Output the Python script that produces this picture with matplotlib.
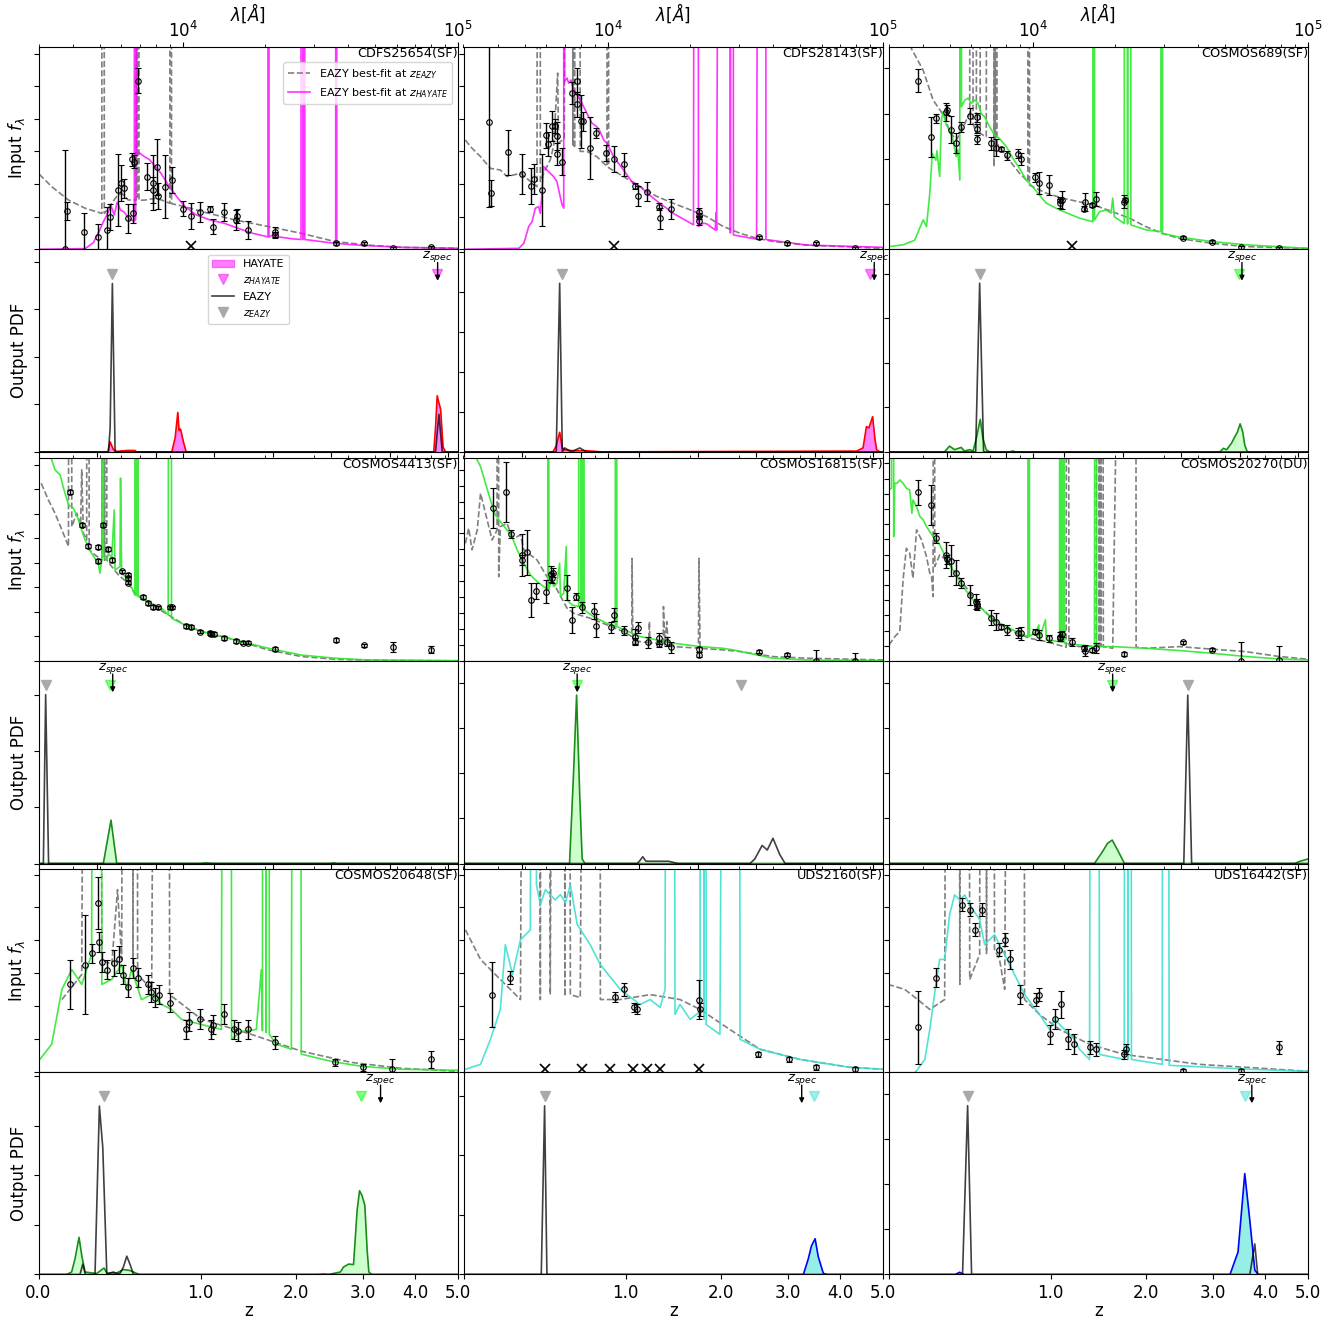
import numpy as np
import matplotlib
matplotlib.use("Agg")
import matplotlib.pyplot as plt
import matplotlib.patches as mpatches
import matplotlib.transforms as mtransforms
from matplotlib.lines import Line2D

SPIKE = 99.0   # emission lines that run off the top of a panel

# ---------------------------------------------------------------------------
# Data: wavelengths as log10(lambda/A), fluxes and PDFs
# in units of one y tick.
# ---------------------------------------------------------------------------

NAMES = ["CDFS25654(SF)", "CDFS28143(SF)", "COSMOS689(SF)",
         "COSMOS4413(SF)", "COSMOS16815(SF)", "COSMOS20270(DU)",
         "COSMOS20648(SF)", "UDS2160(SF)", "UDS16442(SF)"]
FIELDS = ["CDFS", "CDFS", "COSMOS", "COSMOS", "COSMOS", "COSMOS",
          "COSMOS", "UDS", "UDS"]
SED_YMAX = [6.21, 6.21, 4.48, 8.27, 12.72, 13.33, 6.16, 6.16, 6.16]
PDF_YMAX = [4.26, 5.06, 4.55, 3.6, 4.5, 4.5, 4.09, 3.4, 4.5]
Z_EAZY = [0.371, 0.523, 0.476, 0.031, 2.27, 2.59, 0.325, 0.414, 0.402]
Z_HAYATE = [4.49, 4.67, 3.47, 0.358, 0.621, 1.60, 2.96, 3.47, 3.58]
Z_SPEC = [4.50, 4.78, 3.525, 0.373, 0.625, 1.605, 3.31, 3.24, 3.72]

# --- CDFS25654 -------------------------------------------------------------
A_ph_loglam = [3.574, 3.582, 3.643, 3.692, 3.727, 3.737, 3.767, 3.777, 3.787, 3.801,
               3.815, 3.821, 3.822, 3.838, 3.872, 3.891, 3.891, 3.907, 3.912, 3.938,
               3.963, 4.0, 4.029, 4.064, 4.101, 4.112, 4.149, 4.193, 4.197, 4.236,
               4.335, 4.337, 4.556, 4.657, 4.763, 4.902]
A_ph_flux = [0.0, 1.18, 0.52, 0.37, 0.59, 1.0, 1.82, 2.04, 1.87, 0.95,
             2.76, 1.1, 2.69, 5.17, 2.23, 2.04, 1.82, 2.52, 1.64, 1.92,
             2.12, 1.24, 1.02, 1.15, 1.23, 0.69, 1.15, 0.9, 1.02, 0.59,
             0.54, 0.44, 0.18, 0.18, 0.03, 0.06]
A_ph_err = [3.05, 0.28, 0.6, 0.4, 0.7, 0.4, 1.1, 0.55, 0.3, 0.45,
            0.2, 0.3, 0.2, 0.38, 0.4, 0.85, 0.4, 0.85, 0.4, 0.97,
            0.4, 0.23, 0.4, 0.3, 0.1, 0.23, 0.28, 0.3, 0.2, 0.28,
            0.15, 0.1, 0.05, 0.05, 0.05, 0.05]
A_ulim = [4.029]
A_hay_loglam = [3.48, 3.646, 3.676, 3.700, 3.713, 3.725, 3.740, 3.752, 3.763, 3.775,
                3.787, 3.805, 3.825, 3.827, 3.829, 3.831, 3.833, 3.845, 3.860, 3.880,
                3.900, 3.920, 3.950, 3.980, 4.010, 4.050, 4.100, 4.150, 4.200, 4.250,
                4.310, 4.312, 4.314, 4.330, 4.333, 4.345, 4.348, 4.400, 4.430, 4.432,
                4.437, 4.441, 4.444, 4.556, 4.558, 4.560, 4.650, 4.800, 5.0]
A_hay_flux = [0.0, 0.02, 0.2, 0.6, 0.85, 1.05, 1.35, 1.05, 1.45, 1.2,
              1.15, 0.95, 0.85, SPIKE, 0.9, SPIKE, 2.95, 2.95, 2.85, 2.75,
              2.55, 2.35, 1.95, 1.6, 1.3, 1.05, 0.9, 0.8, 0.65, 0.5,
              0.38, SPIKE, 0.38, 0.45, 0.38, 0.45, 0.38, 0.32, 0.3, SPIKE,
              0.3, SPIKE, 0.3, 0.18, SPIKE, 0.18, 0.12, 0.06, 0.03]
A_eazy_loglam = [3.48, 3.525, 3.586, 3.646, 3.707, 3.712, 3.716, 3.743, 3.761, 3.779,
                 3.803, 3.832, 3.834, 3.836, 3.839, 3.842, 3.864, 3.900, 3.924, 3.954,
                 3.957, 3.960, 4.008, 4.069, 4.190, 4.310, 4.431, 4.552, 4.673, 4.793, 5.0]
A_eazy_flux = [2.3, 1.92, 1.51, 1.26, 1.1, SPIKE, 1.1, 1.41, 1.62, 1.72,
               1.51, 1.51, SPIKE, 1.6, SPIKE, 1.5, 1.51, 1.56, 1.51, 1.41,
               SPIKE, 1.4, 1.31, 1.16, 0.9, 0.7, 0.49, 0.24, 0.13, 0.06, 0.03]
A_pe_z = [0.0, 0.34, 0.348, 0.358, 0.371, 0.387, 0.40, 4.40, 4.45, 4.53, 4.61, 4.65, 5.0]
A_pe_p = [0.0, 0.0, 0.0, 0.5, 3.54, 0.0, 0.0, 0.0, 0.0, 0.79, 0.0, 0.0, 0.0]
A_ph_z = [0.0, 0.345, 0.358, 0.377, 0.397, 0.46, 0.51, 0.52, 0.767, 0.793,
          0.813, 0.823, 0.834, 0.858, 0.879, 4.41, 4.45, 4.49, 4.53, 4.57, 4.63, 4.69, 5.0]
A_ph_p = [0.0, 0.0, 0.21, 0.05, 0.01, 0.03, 0.03, 0.0, 0.0, 0.3,
          0.83, 0.45, 0.48, 0.2, 0.0, 0.0, 0.5, 1.18, 1.03, 0.9, 0.1, 0.0, 0.0]

# --- CDFS28143 -------------------------------------------------------------
B_ph_loglam = [3.571, 3.577, 3.639, 3.688, 3.723, 3.734, 3.763, 3.775, 3.783, 3.797,
               3.810, 3.815, 3.816, 3.835, 3.870, 3.888, 3.889, 3.903, 3.911, 3.936,
               3.958, 3.995, 4.024, 4.06, 4.098, 4.109, 4.145, 4.187, 4.191, 4.231,
               4.333, 4.333, 4.333, 4.551, 4.653, 4.758, 4.897]
B_ph_flux = [3.9, 1.72, 2.97, 2.31, 1.95, 2.16, 1.82, 3.5, 3.23, 3.78,
             3.78, 3.48, 2.92, 2.69, 4.79, 5.17, 4.45, 3.92, 3.92, 3.1,
             3.56, 2.96, 2.76, 2.61, 1.94, 1.64, 1.77, 1.31, 0.95, 1.23,
             1.13, 1.02, 0.88, 0.37, 0.18, 0.18, 0.03]
B_ph_err = [2.6, 0.4, 0.69, 0.6, 0.55, 0.45, 1.1, 0.38, 0.38, 0.45,
            0.2, 0.43, 0.33, 0.42, 0.34, 0.4, 0.38, 0.8, 0.3, 0.96,
            0.15, 0.25, 0.4, 0.35, 0.1, 0.3, 0.28, 0.1, 0.33, 0.3,
            0.15, 0.1, 0.15, 0.05, 0.05, 0.05, 0.05]
B_ulim = [4.022]
B_hay_loglam = [3.484, 3.678, 3.696, 3.714, 3.726, 3.738, 3.750, 3.756, 3.762, 3.768,
                3.780, 3.792, 3.804, 3.816, 3.835, 3.841, 3.842, 3.844, 3.853, 3.859,
                3.867, 3.877, 3.901, 3.925, 3.943, 3.961, 3.973, 3.986, 3.998, 4.022,
                4.058, 4.088, 4.118, 4.167, 4.239, 4.312, 4.326, 4.330, 4.348, 4.360,
                4.391, 4.394, 4.396, 4.440, 4.446, 4.452, 4.457, 4.541, 4.572, 4.575,
                4.722, 5.0]
B_hay_flux = [0.0, 0.03, 0.18, 0.7, 0.85, 1.26, 1.31, 1.1, 1.72, 2.54,
              2.43, 2.33, 2.23, 2.08, 1.36, 1.26, SPIKE, 5.14, 5.25, 5.09,
              5.19, 4.89, 4.58, 4.17, 3.87, 3.76, 3.61, 3.35, 3.25, 2.84,
              2.43, 2.08, 1.92, 1.56, 1.1, 0.75, SPIKE, 0.7, 0.8, 0.78,
              0.59, 1.12, 0.59, SPIKE, 0.5, SPIKE, 0.44, 0.31, SPIKE, 0.3,
              0.13, 0.06]
B_eazy_loglam = [3.484, 3.502, 3.539, 3.575, 3.611, 3.635, 3.684, 3.720, 3.744, 3.754,
                 3.756, 3.768, 3.792, 3.804, 3.819, 3.822, 3.843, 3.871, 3.874, 3.877,
                 3.880, 3.883, 3.901, 3.925, 3.961, 3.998, 4.001, 4.004, 4.058, 4.118,
                 4.179, 4.239, 4.300, 4.360, 4.420, 4.481, 4.541, 4.601, 4.722, 5.0]
B_eazy_flux = [3.35, 3.15, 2.84, 2.48, 2.43, 2.23, 2.33, 2.08, 1.92, SPIKE,
               2.08, 2.33, 2.74, 3.15, 5.4, 3.25, 3.4, SPIKE, 3.2, SPIKE,
               3.1, SPIKE, 3.0, 3.0, 2.84, 2.54, SPIKE, 2.5, 2.23, 1.92,
               1.62, 1.41, 1.21, 1.0, 0.7, 0.49, 0.34, 0.24, 0.13, 0.03]
B_pe_z = [0.0, 0.486, 0.508, 0.525, 0.540, 0.585, 0.643, 0.690, 5.0]
B_pe_p = [0.0, 0.0, 4.21, 0.0, 0.1, 0.0, 0.1, 0.0, 0.0]
B_ph_z = [0.0, 0.465, 0.486, 0.508, 0.525, 0.540, 0.596, 0.690, 0.764, 0.80,
          4.36, 4.51, 4.59, 4.65, 4.74, 4.80, 4.84, 4.92, 5.0]
B_ph_p = [0.0, 0.0, 0.15, 0.49, 0.1, 0.05, 0.03, 0.03, 0.01, 0.0,
          0.02, 0.1, 0.63, 0.6, 0.88, 0.3, 0.05, 0.0, 0.0]

# --- COSMOS689 -------------------------------------------------------------
C_ph_loglam = [3.585, 3.630, 3.649, 3.687, 3.690, 3.705, 3.723, 3.739, 3.773, 3.797,
               3.797, 3.798, 3.850, 3.867, 3.885, 3.908, 3.948, 3.957, 4.008, 4.024,
               4.06, 4.098, 4.099, 4.107, 4.188, 4.192, 4.216, 4.231, 4.333, 4.335,
               4.548, 4.651, 4.757, 4.895]
C_ph_flux = [3.73, 2.48, 2.9, 3.04, 3.08, 2.64, 2.36, 2.71, 2.95, 2.92,
             2.67, 2.43, 2.34, 2.25, 2.22, 2.08, 2.11, 1.99, 1.59, 1.46,
             1.42, 1.1, 1.02, 1.1, 0.9, 1.05, 0.98, 1.11, 1.05, 1.09,
             0.26, 0.17, 0.04, 0.02]
C_ph_err = [0.26, 0.44, 0.1, 0.2, 0.1, 0.3, 0.22, 0.11, 0.17, 0.1,
            0.1, 0.1, 0.15, 0.18, 0.05, 0.1, 0.1, 0.13, 0.1, 0.24,
            0.22, 0.05, 0.1, 0.2, 0.05, 0.2, 0.05, 0.16, 0.14, 0.05,
            0.03, 0.03, 0.03, 0.03]
C_ulim = [4.144]
C_hay_loglam = [3.479, 3.530, 3.572, 3.603, 3.615, 3.627, 3.636, 3.649, 3.653, 3.663,
                3.669, 3.675, 3.687, 3.699, 3.711, 3.723, 3.729, 3.736, 3.738, 3.742,
                3.754, 3.766, 3.778, 3.790, 3.802, 3.814, 3.826, 3.844, 3.862, 3.880,
                3.905, 3.929, 3.953, 3.977, 4.001, 4.025, 4.050, 4.098, 4.170, 4.219,
                4.222, 4.225, 4.243, 4.267, 4.285, 4.291, 4.297, 4.333, 4.339, 4.345,
                4.351, 4.357, 4.412, 4.466, 4.469, 4.472, 4.533, 4.653, 4.774, 5.0]
C_hay_flux = [0.06, 0.1, 0.2, 0.65, 0.5, 1.24, 2.12, 1.97, 2.18, 1.61,
              2.86, 3.04, 2.75, 2.64, 2.42, 2.05, 2.2, 1.53, SPIKE, 3.15,
              3.3, 3.34, 3.23, 3.3, 3.23, 3.0, 2.93, 2.71, 2.53, 2.45,
              2.27, 2.01, 1.79, 1.53, 1.38, 1.2, 1.02, 0.87, 0.69, 0.61,
              SPIKE, 0.65, 0.83, 0.87, 0.8, 1.13, 0.72, 0.57, SPIKE, 0.56,
              SPIKE, 0.54, 0.43, 0.39, SPIKE, 0.35, 0.27, 0.17, 0.1, 0.02]
C_eazy_loglam = [3.540, 3.560, 3.603, 3.639, 3.681, 3.699, 3.723, 3.742, 3.760, 3.772,
                 3.781, 3.784, 3.796, 3.808, 3.810, 3.832, 3.856, 3.860, 3.862, 3.865,
                 3.868, 3.871, 3.905, 3.953, 3.983, 3.986, 3.989, 4.050, 4.110, 4.170,
                 4.231, 4.291, 4.351, 4.412, 4.472, 4.533, 4.653, 4.774, 5.0]
C_eazy_flux = [5.5, 4.44, 3.96, 3.3, 2.93, 2.6, 2.42, 2.6, 2.86, 3.0,
               SPIKE, 2.78, 2.56, SPIKE, 2.56, 2.49, SPIKE, 1.83, SPIKE, 2.2,
               SPIKE, 2.34, 2.05, 1.68, 1.5, SPIKE, 1.42, 1.24, 1.13, 1.05,
               0.96, 0.83, 0.69, 0.5, 0.35, 0.24, 0.13, 0.06, 0.02]
C_pe_z = [0.0, 0.451, 0.476, 0.501, 5.0]
C_pe_p = [0.0, 0.0, 3.79, 0.0, 0.0]
C_ph_z = [0.0, 0.27, 0.298, 0.326, 0.364, 0.383, 0.414, 0.435, 0.455, 0.480,
          0.497, 0.518, 0.54, 0.68, 0.70, 0.72, 3.12, 3.18, 3.24, 3.33,
          3.39, 3.44, 3.49, 3.54, 3.58, 3.63, 5.0]
C_ph_p = [0.0, 0.0, 0.13, 0.05, 0.1, 0.02, 0.05, 0.02, 0.3, 0.73,
          0.3, 0.05, 0.0, 0.0, 0.02, 0.0, 0.0, 0.08, 0.05, 0.2,
          0.34, 0.45, 0.63, 0.45, 0.15, 0.0, 0.0]

# --- COSMOS4413 ------------------------------------------------------------
D_ph_loglam = [3.591, 3.636, 3.656, 3.694, 3.694, 3.710, 3.728, 3.745, 3.779, 3.801,
               3.803, 3.801, 3.857, 3.873, 3.891, 3.912, 3.955, 3.963, 4.014, 4.029,
               4.064, 4.100, 4.105, 4.113, 4.149, 4.193, 4.220, 4.236, 4.337, 4.556,
               4.657, 4.763, 4.902]
D_ph_flux = [6.88, 5.55, 4.69, 4.64, 4.08, 5.55, 4.56, 4.1, 3.65, 3.51,
             3.37, 3.2, 2.59, 2.35, 2.19, 2.18, 2.18, 2.18, 1.43, 1.37,
             1.2, 1.13, 1.1, 1.1, 0.95, 0.82, 0.75, 0.75, 0.49, 0.86,
             0.63, 0.56, 0.45]
D_ph_err = [0.08, 0.08, 0.08, 0.08, 0.08, 0.08, 0.08, 0.08, 0.08, 0.08,
            0.08, 0.08, 0.08, 0.08, 0.08, 0.08, 0.08, 0.08, 0.08, 0.08,
            0.08, 0.08, 0.08, 0.08, 0.08, 0.08, 0.08, 0.08, 0.08, 0.08,
            0.08, 0.2, 0.14]
D_ulim = []
D_hay_loglam = [3.523, 3.537, 3.556, 3.568, 3.586, 3.604, 3.622, 3.646, 3.670, 3.694,
                3.700, 3.707, 3.709, 3.713, 3.725, 3.731, 3.743, 3.752, 3.755, 3.773,
                3.775, 3.779, 3.803, 3.827, 3.830, 3.833, 3.837, 3.839, 3.864, 3.888,
                3.924, 3.948, 3.957, 3.960, 4.008, 4.069, 4.190, 4.310, 4.431, 4.552,
                4.673, 5.0]
D_hay_flux = [8.27, 7.8, 7.59, 7.05, 6.37, 6.23, 5.76, 4.94, 4.39, 3.99,
              3.58, 4.12, SPIKE, 4.26, 4.12, 4.39, 4.19, 6.16, 3.71, 3.85,
              7.46, 3.58, 3.31, 2.69, SPIKE, 2.66, SPIKE, 2.63, 2.49, 2.35,
              2.15, 1.88, SPIKE, 1.74, 1.47, 1.2, 0.86, 0.52, 0.24, 0.11,
              0.04, 0.01]
D_eazy_loglam = [3.487, 3.513, 3.537, 3.562, 3.586, 3.592, 3.598, 3.616, 3.630, 3.634,
                 3.640, 3.652, 3.658, 3.661, 3.682, 3.707, 3.713, 3.717, 3.721, 3.725,
                 3.743, 3.767, 3.803, 3.827, 3.888, 3.948, 4.008, 4.069, 4.190, 4.310,
                 4.431, 4.552, 4.673, 5.0]
D_eazy_flux = [7.25, 6.57, 6.03, 5.35, 4.67, SPIKE, 5.48, 6.03, 5.55, 7.8,
               5.21, 4.94, SPIKE, 4.53, 4.33, 4.12, SPIKE, 4.1, SPIKE, 4.12,
               3.85, 3.51, 3.17, 2.76, 2.29, 1.88, 1.47, 1.2, 0.86, 0.45,
               0.18, 0.07, 0.03, 0.0]
D_pe_z = [0.0, 0.021, 0.031, 0.044, 5.0]
D_pe_p = [0.0, 0.0, 3.0, 0.0, 0.0]
D_ph_z = [0.0, 0.319, 0.363, 0.397, 1.0, 1.05, 1.10, 2.48, 2.53, 2.58, 5.0]
D_ph_p = [0.0, 0.0, 0.77, 0.0, 0.0, 0.01, 0.0, 0.0, 0.01, 0.0, 0.0]

# --- COSMOS16815 -----------------------------------------------------------
E_ph_loglam = [3.586, 3.633, 3.651, 3.690, 3.690, 3.708, 3.723, 3.742, 3.775, 3.796,
               3.798, 3.801, 3.853, 3.871, 3.886, 3.909, 3.950, 3.957, 4.012, 4.024,
               4.059, 4.098, 4.099, 4.110, 4.146, 4.188, 4.188, 4.217, 4.232, 4.333,
               4.333, 4.551, 4.653, 4.758, 4.897]
E_ph_flux = [9.58, 10.59, 7.97, 6.65, 6.34, 6.82, 3.83, 4.41, 4.35, 5.46,
             5.19, 5.54, 4.6, 2.57, 4.04, 3.37, 3.16, 2.22, 2.11, 2.89,
             1.9, 1.53, 1.21, 2.09, 1.17, 1.42, 1.07, 1.21, 0.86, 0.73,
             0.38, 0.59, 0.38, 0.02, 0.02]
E_ph_err = [1.25, 1.9, 0.27, 1.3, 0.3, 1.4, 1.05, 0.5, 0.7, 0.5,
            0.3, 0.3, 0.77, 0.8, 0.2, 0.35, 0.5, 0.7, 0.35, 0.4,
            0.3, 0.5, 0.2, 0.35, 0.35, 0.35, 0.2, 0.3, 0.35, 0.15,
            0.15, 0.1, 0.1, 0.65, 0.45]
E_ulim = []
E_hay_loglam = [3.524, 3.539, 3.557, 3.575, 3.593, 3.611, 3.635, 3.653, 3.672, 3.696,
                3.720, 3.744, 3.768, 3.783, 3.785, 3.787, 3.798, 3.804, 3.816, 3.826,
                3.829, 3.841, 3.850, 3.853, 3.871, 3.895, 3.899, 3.903, 3.907, 3.910,
                3.913, 3.915, 3.949, 3.998, 4.028, 4.030, 4.034, 4.118, 4.239, 4.336,
                4.420, 4.457, 4.541, 4.601, 4.722, 5.0]
E_hay_flux = [12.72, 12.2, 11.15, 10.1, 9.16, 8.74, 8.22, 7.8, 6.97, 6.13,
              5.4, 4.98, 4.67, 4.46, SPIKE, 4.46, 5.29, 4.67, 4.87, 6.13,
              4.04, 4.25, 7.18, 3.83, 3.51, 3.41, SPIKE, 3.35, SPIKE, 3.3,
              SPIKE, 3.2, 2.78, 2.36, 2.15, SPIKE, 2.15, 1.53, 1.11, 0.9,
              0.79, 0.69, 0.38, 0.17, 0.06, 0.02]
E_eazy_loglam = [3.484, 3.496, 3.508, 3.527, 3.539, 3.551, 3.581, 3.599, 3.601, 3.605,
                 3.611, 3.635, 3.653, 3.672, 3.684, 3.696, 3.720, 3.744, 3.780, 3.804,
                 3.853, 3.877, 3.937, 3.998, 4.058, 4.088, 4.089, 4.092, 4.118, 4.150,
                 4.152, 4.154, 4.179, 4.202, 4.203, 4.208, 4.215, 4.220, 4.239, 4.330,
                 4.332, 4.336, 4.420, 4.481, 4.601, 4.722, 5.0]
E_eazy_flux = [7.38, 8.33, 6.97, 8.22, 10.52, 9.69, 7.59, 8.22, SPIKE, 5.29,
               8.43, 8.64, 7.8, 7.8, 7.91, 6.97, 6.65, 6.34, 5.29, 4.87,
               3.31, 2.99, 2.68, 2.26, 1.84, 1.53, 6.44, 1.32, 1.21, 1.15,
               2.47, 1.12, 1.11, 1.0, 3.41, 1.0, 2.47, 0.95, 0.9, 0.8,
               6.44, 0.79, 0.69, 0.59, 0.27, 0.17, 0.06]
E_pe_z = [0.0, 1.10, 1.12, 1.15, 1.18, 1.25, 1.40, 1.50, 2.40, 2.47,
          2.58, 2.66, 2.75, 2.86, 2.95, 5.0]
E_pe_p = [0.0, 0.0, 0.05, 0.15, 0.05, 0.05, 0.05, 0.0, 0.0, 0.1,
          0.4, 0.3, 0.56, 0.2, 0.0, 0.0]
E_ph_z = [0.0, 0.573, 0.600, 0.621, 0.643, 0.66, 0.68, 5.0]
E_ph_p = [0.0, 0.0, 2.0, 3.74, 1.5, 0.1, 0.0, 0.0]

# --- COSMOS20270 -----------------------------------------------------------
F_ph_loglam = [3.586, 3.630, 3.651, 3.687, 3.690, 3.705, 3.723, 3.739, 3.773, 3.796,
               3.797, 3.798, 3.850, 3.867, 3.885, 3.908, 3.948, 3.957, 4.008, 4.024,
               4.06, 4.098, 4.099, 4.107, 4.145, 4.188, 4.192, 4.216, 4.231, 4.333,
               4.548, 4.651, 4.757, 4.895]
F_ph_flux = [11.1, 10.26, 8.07, 6.97, 6.69, 6.6, 5.81, 5.11, 4.34, 3.9,
             3.75, 3.62, 2.85, 2.59, 2.26, 2.04, 1.82, 1.82, 1.93, 1.71,
             1.49, 1.6, 1.49, 1.78, 1.23, 0.83, 0.68, 0.72, 0.83, 0.46,
             1.23, 0.72, 0.02, 0.07]
F_ph_err = [0.82, 1.3, 0.33, 0.88, 0.3, 1.0, 0.8, 0.33, 0.65, 0.47,
            0.3, 0.3, 0.5, 0.55, 0.15, 0.33, 0.33, 0.44, 0.15, 0.33,
            0.22, 0.3, 0.15, 0.2, 0.28, 0.15, 0.35, 0.15, 0.33, 0.15,
            0.1, 0.1, 1.2, 0.9]
F_ulim = []
F_hay_loglam = [3.479, 3.488, 3.494, 3.496, 3.500, 3.508, 3.518, 3.530, 3.542, 3.554,
                3.562, 3.566, 3.579, 3.591, 3.603, 3.615, 3.639, 3.651, 3.663, 3.687,
                3.711, 3.748, 3.784, 3.820, 3.856, 3.905, 3.953, 3.983, 3.986, 3.989,
                4.013, 4.023, 4.025, 4.047, 4.050, 4.098, 4.100, 4.103, 4.107, 4.109,
                4.112, 4.116, 4.170, 4.225, 4.228, 4.233, 4.291, 4.412, 4.533, 4.653,
                4.774, 4.895, 5.0]
F_hay_flux = [11.25, 11.36, SPIKE, 8.18, 11.69, 11.69, 11.91, 11.69, 11.36, 11.25,
              9.71, 10.59, 10.15, 9.5, 9.28, 8.84, 8.18, 7.96, 7.63, 6.75,
              5.99, 4.89, 4.01, 3.36, 2.7, 2.26, 1.82, 1.6, SPIKE, 1.6,
              1.93, 2.37, 1.49, 2.7, 1.38, 1.27, SPIKE, 1.25, SPIKE, 1.22,
              SPIKE, 1.16, 1.05, 0.94, SPIKE, 0.94, 0.94, 0.83, 0.68, 0.5,
              0.29, 0.13, 0.07]
F_eazy_loglam = [3.479, 3.500, 3.518, 3.530, 3.542, 3.554, 3.566, 3.579, 3.597, 3.615,
                 3.627, 3.633, 3.639, 3.643, 3.645, 3.663, 3.687, 3.748, 3.808, 3.868,
                 3.929, 3.989, 4.050, 4.122, 4.128, 4.132, 4.170, 4.231, 4.239, 4.242,
                 4.245, 4.248, 4.251, 4.257, 4.291, 4.373, 4.376, 4.412, 4.533, 4.653,
                 4.774, 4.895, 5.0]
F_eazy_flux = [1.05, 1.6, 1.93, 5.33, 7.41, 7.08, 5.44, 8.62, 7.96, 6.86,
               5.77, 5.66, 4.23, SPIKE, 6.21, 6.97, 6.64, 5.11, 3.57, 2.59,
               1.93, 1.49, 1.27, 0.9, SPIKE, 1.05, 0.94, 0.99, SPIKE, 0.97,
               SPIKE, 0.96, SPIKE, 0.94, 0.83, SPIKE, 0.9, 0.83, 0.94, 0.77,
               0.61, 0.29, 0.11]
F_pe_z = [0.0, 2.53, 2.59, 2.65, 5.0]
F_pe_p = [0.0, 0.0, 3.74, 0.0, 0.0]
F_ph_z = [0.0, 1.41, 1.49, 1.55, 1.60, 1.66, 1.74, 4.67, 4.80, 5.0]
F_ph_p = [0.0, 0.0, 0.25, 0.45, 0.52, 0.3, 0.0, 0.0, 0.05, 0.1]

# --- COSMOS20648 -----------------------------------------------------------
G_ph_loglam = [3.591, 3.645, 3.670, 3.692, 3.696, 3.707, 3.725, 3.750, 3.768, 3.783,
               3.801, 3.819, 3.837, 3.873, 3.884, 3.899, 3.913, 3.953, 4.014, 4.025,
               4.065, 4.105, 4.112, 4.149, 4.188, 4.203, 4.236, 4.337, 4.554, 4.656,
               4.761, 4.902]
G_ph_flux = [2.66, 3.26, 3.6, 5.14, 3.96, 3.35, 3.11, 3.32, 3.42, 2.96,
             2.57, 3.17, 2.87, 2.66, 2.42, 2.26, 2.35, 2.11, 1.29, 1.53,
             1.6, 1.29, 1.44, 1.75, 1.29, 1.23, 1.29, 0.9, 0.29, 0.14,
             0.08, 0.38]
G_ph_err = [0.75, 1.5, 0.3, 0.8, 0.3, 0.3, 0.3, 0.4, 0.4, 0.3,
            0.3, 0.3, 0.3, 0.3, 0.3, 0.3, 0.3, 0.3, 0.3, 0.3,
            0.3, 0.3, 0.3, 0.3, 0.3, 0.3, 0.3, 0.2, 0.1, 0.1,
            0.3, 0.25]
G_ulim = []
G_hay_loglam = [3.482, 3.525, 3.562, 3.598, 3.634, 3.670, 3.692, 3.707, 3.743, 3.779,
                3.797, 3.815, 3.851, 3.888, 3.924, 3.960, 3.996, 4.069, 4.141, 4.170,
                4.178, 4.214, 4.268, 4.286, 4.290, 4.297, 4.303, 4.308, 4.315, 4.341,
                4.395, 4.420, 4.431, 4.540, 4.649, 4.793, 5.0]
G_hay_flux = [0.38, 0.84, 2.51, 3.11, 2.66, 3.57, SPIKE, 2.66, 2.81, 3.26,
              2.51, 3.11, 2.2, 2.35, 2.05, 1.9, 1.6, 1.44, 1.29, SPIKE,
              0.99, 1.23, 1.29, 3.11, 1.25, SPIKE, 1.2, SPIKE, 1.14, 0.84,
              0.69, SPIKE, 0.54, 0.32, 0.17, 0.08, 0.05]
G_eazy_loglam = [3.562, 3.634, 3.692, 3.707, 3.743, 3.764, 3.779, 3.815, 3.820, 3.826,
                 3.837, 3.888, 3.946, 3.953, 4.069, 4.250, 4.431, 4.612, 4.793, 5.0]
G_eazy_flux = [2.2, 2.96, SPIKE, 3.42, 3.26, 5.54, 3.42, SPIKE, 3.3, SPIKE,
               2.96, 2.51, SPIKE, 2.35, 1.6, 1.14, 0.63, 0.29, 0.11, 0.02]
G_pe_z = [0.0, 0.194, 0.208, 0.222, 0.273, 0.297, 0.316, 0.339, 0.358, 0.377,
          0.395, 0.416, 0.437, 0.458, 0.479, 0.50, 5.0]
G_pe_p = [0.0, 0.0, 0.21, 0.0, 0.0, 3.4, 2.56, 0.0, 0.03, 0.05,
          0.02, 0.02, 0.15, 0.37, 0.2, 0.0, 0.0]
G_ph_z = [0.0, 0.128, 0.152, 0.169, 0.189, 0.203, 0.220, 0.282, 0.323, 0.339,
          0.397, 0.437, 0.479, 0.522, 0.54, 2.30, 2.38, 2.45, 2.63, 2.68,
          2.76, 2.84, 2.90, 2.94, 2.98, 3.03, 3.07, 3.10, 3.15, 5.0]
G_ph_p = [0.0, 0.0, 0.05, 0.32, 0.75, 0.38, 0.05, 0.02, 0.13, 0.03,
          0.03, 0.1, 0.08, 0.02, 0.0, 0.0, 0.01, 0.0, 0.05, 0.15,
          0.21, 0.2, 1.3, 1.69, 1.6, 1.4, 0.5, 0.05, 0.0, 0.0]

# --- UDS2160 ---------------------------------------------------------------
H_ph_loglam = [3.582, 3.647, 4.026, 4.059, 4.095, 4.106, 4.332, 4.336, 4.546, 4.658,
               4.756, 4.897]
H_ph_flux = [2.35, 2.87, 2.29, 2.51, 1.96, 1.9, 2.2, 1.9, 0.53, 0.38,
             0.14, 0.08]
H_ph_err = [1.0, 0.2, 0.15, 0.2, 0.15, 0.15, 0.6, 0.2, 0.08, 0.08,
            0.08, 0.08]
H_ulim = [3.774, 3.908, 4.010, 4.093, 4.144, 4.191, 4.333]
H_hay_loglam = [3.484, 3.539, 3.575, 3.611, 3.629, 3.655, 3.684, 3.720, 3.731, 3.742,
                3.756, 3.774, 3.810, 3.829, 3.847, 3.865, 3.890, 3.937, 3.974, 4.046,
                4.118, 4.155, 4.191, 4.209, 4.223, 4.245, 4.263, 4.300, 4.336, 4.343,
                4.350, 4.354, 4.358, 4.408, 4.470, 4.481, 4.553, 4.698, 4.879, 5.0]
H_hay_flux = [0.08, 0.23, 0.99, 1.9, 3.87, 2.96, 4.02, 4.32, SPIKE, 5.69,
              5.08, 5.54, 5.23, 5.39, 5.14, 5.69, 4.48, 3.87, 3.26, 2.51,
              2.05, 2.2, 1.96, 2.51, SPIKE, 1.75, 2.05, 1.6, 1.84, SPIKE,
              1.6, SPIKE, 1.44, 1.14, SPIKE, 0.99, 0.69, 0.38, 0.14, 0.08]
H_eazy_loglam = [3.484, 3.539, 3.593, 3.647, 3.684, 3.731, 3.756, 3.774, 3.792, 3.839,
                 3.845, 3.850, 3.865, 3.901, 3.966, 3.974, 4.046, 4.155, 4.263, 4.336,
                 4.444, 4.553, 4.698, 4.879, 5.0]
H_eazy_flux = [4.32, 3.42, 2.96, 2.51, 2.2, SPIKE, 2.2, SPIKE, 2.35, SPIKE,
               2.3, SPIKE, 2.35, 2.26, SPIKE, 2.2, 2.2, 2.35, 2.2, 1.9,
               1.29, 0.69, 0.38, 0.14, 0.08]
H_pe_z = [0.0, 0.394, 0.414, 0.428, 5.0]
H_pe_p = [0.0, 0.0, 2.83, 0.0, 0.0]
H_ph_z = [0.0, 3.27, 3.36, 3.42, 3.49, 3.55, 3.65, 3.72, 5.0]
H_ph_p = [0.0, 0.0, 0.26, 0.48, 0.6, 0.3, 0.02, 0.0, 0.0]

# --- UDS16442 --------------------------------------------------------------
I_ph_loglam = [3.583, 3.649, 3.743, 3.772, 3.815, 3.790, 3.880, 3.899, 3.917, 3.953,
               4.014, 4.025, 4.062, 4.083, 4.105, 4.127, 4.152, 4.207, 4.232, 4.333,
               4.341, 4.547, 4.757, 4.895]
I_ph_flux = [1.35, 2.87, 5.08, 4.93, 4.93, 4.32, 3.72, 4.02, 3.42, 2.35,
             2.2, 2.35, 1.14, 1.6, 2.05, 0.99, 0.84, 0.75, 0.69, 0.53,
             0.69, 0.02, 0.02, 0.75]
I_ph_err = [1.1, 0.3, 0.2, 0.2, 0.2, 0.2, 0.2, 0.2, 0.3, 0.3,
            0.2, 0.2, 0.3, 0.3, 0.4, 0.3, 0.3, 0.2, 0.2, 0.15,
            0.15, 0.08, 0.08, 0.2]
I_ulim = []
I_hay_loglam = [3.575, 3.583, 3.609, 3.627, 3.649, 3.663, 3.681, 3.699, 3.717, 3.736,
                3.754, 3.772, 3.808, 3.826, 3.862, 3.880, 3.917, 3.971, 4.025, 4.062,
                4.080, 4.116, 4.152, 4.170, 4.207, 4.228, 4.243, 4.333, 4.341, 4.346,
                4.351, 4.359, 4.471, 4.478, 4.496, 4.786, 5.0]
I_hay_flux = [0.0, 0.08, 0.38, 1.29, 2.66, 3.42, 3.42, 4.78, 5.38, 5.23,
              5.38, 5.08, 4.63, 3.87, 4.17, 3.87, 3.26, 2.35, 1.75, 1.29,
              1.6, 1.29, 0.99, 0.69, 0.38, SPIKE, 0.53, 0.38, SPIKE, 0.38,
              SPIKE, 0.38, 0.23, SPIKE, 0.2, 0.08, 0.02]
I_eazy_loglam = [3.475, 3.536, 3.583, 3.627, 3.681, 3.717, 3.736, 3.754, 3.772, 3.808,
                 3.826, 3.833, 3.841, 3.862, 3.880, 3.899, 3.960, 3.971, 4.025, 4.098,
                 4.207, 4.333, 4.605, 5.0]
I_eazy_flux = [2.66, 2.51, 2.2, 1.9, 2.2, SPIKE, 2.66, SPIKE, 2.81, 3.57,
               SPIKE, 3.6, SPIKE, 3.72, 3.42, 2.51, SPIKE, 2.2, 1.75, 1.29,
               0.84, 0.53, 0.23, 0.02]
I_pe_z = [0.0, 0.372, 0.402, 0.426, 3.68, 3.78, 3.84, 5.0]
I_pe_p = [0.0, 0.0, 3.75, 0.0, 0.0, 0.68, 0.0, 0.0]
I_ph_z = [0.0, 0.33, 0.355, 0.38, 3.30, 3.45, 3.58, 3.68, 3.78, 3.85, 5.0]
I_ph_p = [0.0, 0.0, 0.05, 0.0, 0.0, 0.5, 2.24, 1.2, 0.1, 0.0, 0.0]

# ---------------------------------------------------------------------------
# Styles
# ---------------------------------------------------------------------------

STYLE = {
    "CDFS":   dict(line="magenta", line_alpha=0.8, fill="magenta", fill_alpha=0.5,
                   edge="red", tri="magenta"),
    "COSMOS": dict(line="#2fe82f", line_alpha=0.9, fill="lime", fill_alpha=0.2,
                   edge="#1a8c1a", tri="lime"),
    "UDS":    dict(line="turquoise", line_alpha=0.9, fill="turquoise", fill_alpha=0.55,
                   edge="blue", tri="turquoise"),
}

PANELS = [
    dict(ph=(A_ph_loglam, A_ph_flux, A_ph_err), ulim=A_ulim,
         hay=(A_hay_loglam, A_hay_flux), eazy=(A_eazy_loglam, A_eazy_flux),
         pe=(A_pe_z, A_pe_p), phay=(A_ph_z, A_ph_p)),
    dict(ph=(B_ph_loglam, B_ph_flux, B_ph_err), ulim=B_ulim,
         hay=(B_hay_loglam, B_hay_flux), eazy=(B_eazy_loglam, B_eazy_flux),
         pe=(B_pe_z, B_pe_p), phay=(B_ph_z, B_ph_p)),
    dict(ph=(C_ph_loglam, C_ph_flux, C_ph_err), ulim=C_ulim,
         hay=(C_hay_loglam, C_hay_flux), eazy=(C_eazy_loglam, C_eazy_flux),
         pe=(C_pe_z, C_pe_p), phay=(C_ph_z, C_ph_p)),
    dict(ph=(D_ph_loglam, D_ph_flux, D_ph_err), ulim=D_ulim,
         hay=(D_hay_loglam, D_hay_flux), eazy=(D_eazy_loglam, D_eazy_flux),
         pe=(D_pe_z, D_pe_p), phay=(D_ph_z, D_ph_p)),
    dict(ph=(E_ph_loglam, E_ph_flux, E_ph_err), ulim=E_ulim,
         hay=(E_hay_loglam, E_hay_flux), eazy=(E_eazy_loglam, E_eazy_flux),
         pe=(E_pe_z, E_pe_p), phay=(E_ph_z, E_ph_p)),
    dict(ph=(F_ph_loglam, F_ph_flux, F_ph_err), ulim=F_ulim,
         hay=(F_hay_loglam, F_hay_flux), eazy=(F_eazy_loglam, F_eazy_flux),
         pe=(F_pe_z, F_pe_p), phay=(F_ph_z, F_ph_p)),
    dict(ph=(G_ph_loglam, G_ph_flux, G_ph_err), ulim=G_ulim,
         hay=(G_hay_loglam, G_hay_flux), eazy=(G_eazy_loglam, G_eazy_flux),
         pe=(G_pe_z, G_pe_p), phay=(G_ph_z, G_ph_p)),
    dict(ph=(H_ph_loglam, H_ph_flux, H_ph_err), ulim=H_ulim,
         hay=(H_hay_loglam, H_hay_flux), eazy=(H_eazy_loglam, H_eazy_flux),
         pe=(H_pe_z, H_pe_p), phay=(H_ph_z, H_ph_p)),
    dict(ph=(I_ph_loglam, I_ph_flux, I_ph_err), ulim=I_ulim,
         hay=(I_hay_loglam, I_hay_flux), eazy=(I_eazy_loglam, I_eazy_flux),
         pe=(I_pe_z, I_pe_p), phay=(I_ph_z, I_ph_p)),
]

# panel geometry in pixels of the 1341 x 1318 canvas
FIG_W, FIG_H = 1341.0, 1318.0
COL_LEFT = [38.5, 463.5, 888.5]
ROW_TOP = [46.7, 458.3, 869.3]
AX_W, AX_H = 419.5, 202.6
LAM_MIN, LAM_MAX = 3000.0, 1.0e5
LNZ_MAX = np.log(6.0)


def _rect(left, top):
    return [left / FIG_W, 1.0 - (top + AX_H) / FIG_H, AX_W / FIG_W, AX_H / FIG_H]


def draw_sed(ax, i, row):
    d = PANELS[i]
    st = STYLE[FIELDS[i]]
    lam_e, f_e = d["eazy"]
    lam_h, f_h = d["hay"]
    ax.plot(10 ** np.array(lam_e), f_e, color="gray", ls="--", lw=1.2)
    ax.plot(10 ** np.array(lam_h), f_h, color=st["line"], alpha=st["line_alpha"], lw=1.2)
    lam, f, e = d["ph"]
    ax.errorbar(10 ** np.array(lam), f, yerr=e, fmt="o", ms=4, mfc="none",
                mec="k", mew=0.8, ecolor="k", elinewidth=1.0, capsize=2, zorder=5)
    if d["ulim"]:
        trans = mtransforms.blended_transform_factory(ax.transData, ax.transAxes)
        ax.plot(10 ** np.array(d["ulim"]), [0.015] * len(d["ulim"]), "x",
                color="k", ms=7, mew=1.2, transform=trans, zorder=6)

    ax.set_xscale("log")
    ax.set_xlim(LAM_MIN, LAM_MAX)
    ymax = SED_YMAX[i]
    ax.set_ylim(0, ymax)
    ax.set_yticks(np.arange(0, int(ymax) + 1))
    ax.tick_params(axis="y", labelleft=False)
    ax.tick_params(axis="x", which="both", top=True, bottom=False,
                   labeltop=(row == 0), labelbottom=False, labelsize=12, pad=0.5)
    if row == 0:
        ax.xaxis.set_label_position("top")
        ax.set_xlabel(r"$\lambda[\AA]$", fontsize=12, labelpad=0)
    ax.text(1.0, 1.0, NAMES[i], transform=ax.transAxes, ha="right", va="top",
            fontsize=9.3)


def draw_pdf(ax, i, row, col):
    d = PANELS[i]
    st = STYLE[FIELDS[i]]
    zh, ph = d["phay"]
    xh = np.log1p(np.array(zh))
    ax.fill_between(xh, 0, ph, color=st["fill"], alpha=st["fill_alpha"], lw=0)
    ax.plot(xh, ph, color=st["edge"], lw=1.2)
    ze, pe = d["pe"]
    ax.plot(np.log1p(np.array(ze)), pe, color="k", alpha=0.75, lw=1.2)

    trans = mtransforms.blended_transform_factory(ax.transData, ax.transAxes)
    ax.plot([np.log1p(Z_EAZY[i])], [0.88], "v", color="darkgray", ms=6.5,
            transform=trans, zorder=6)
    ax.plot([np.log1p(Z_HAYATE[i])], [0.88], "v", color=st["tri"], alpha=0.5,
            ms=6.5, transform=trans, zorder=6)
    xs = np.log1p(Z_SPEC[i])
    ax.annotate("", xy=(xs, 0.845), xytext=(xs, 0.935), xycoords=trans,
                textcoords=trans,
                arrowprops=dict(arrowstyle="-|>", color="k", lw=1.0,
                                mutation_scale=7, shrinkA=0, shrinkB=0), zorder=7)
    ax.text(xs, 0.925, r"$z_{spec}$", transform=trans, ha="center", va="bottom",
            fontsize=9.5)

    ax.set_xlim(0, LNZ_MAX)
    ymax = PDF_YMAX[i]
    ax.set_ylim(0, ymax)
    ax.set_yticks(np.arange(0, int(ymax) + 1))
    ax.tick_params(axis="y", labelleft=False)
    if row == 2:
        zt = np.arange(0, 6)
        ax.set_xticks(np.log1p(zt))
        labels = [f"{z:.1f}" for z in zt]
        if col > 0:
            labels[0] = ""
        ax.set_xticklabels(labels, fontsize=12)
        ax.set_xlabel("z", fontsize=12, labelpad=0)
    else:
        ax.set_xticks(np.arange(0, 1.8, 0.25))
        ax.tick_params(axis="x", labelbottom=False)


def main():
    fig = plt.figure(figsize=(FIG_W / 100, FIG_H / 100), dpi=100)
    for i in range(9):
        row, col = divmod(i, 3)
        ax_s = fig.add_axes(_rect(COL_LEFT[col], ROW_TOP[row]))
        ax_p = fig.add_axes(_rect(COL_LEFT[col], ROW_TOP[row] + AX_H))
        draw_sed(ax_s, i, row)
        draw_pdf(ax_p, i, row, col)
        if col == 0:
            ax_s.set_ylabel(r"Input $f_\lambda$", fontsize=12)
            ax_p.set_ylabel("Output PDF", fontsize=12)
        if i == 0:
            sed_handles = [
                Line2D([], [], color="gray", ls="--", lw=1.2,
                       label=r"EAZY best-fit at $z_{EAZY}$"),
                Line2D([], [], color="magenta", alpha=0.8, lw=1.2,
                       label=r"EAZY best-fit at $z_{HAYATE}$"),
            ]
            ax_s.legend(handles=sed_handles, loc="upper right",
                        bbox_to_anchor=(1.0, 0.95), fontsize=8)
            pdf_handles = [
                mpatches.Patch(color="magenta", alpha=0.5, label="HAYATE"),
                Line2D([], [], marker="v", ls="none", color="magenta", alpha=0.5,
                       ms=6.5, label=r"$z_{HAYATE}$"),
                Line2D([], [], color="k", alpha=0.75, lw=1.2, label="EAZY"),
                Line2D([], [], marker="v", ls="none", color="darkgray", ms=6.5,
                       label=r"$z_{EAZY}$"),
            ]
            ax_p.legend(handles=pdf_handles, loc="upper center", fontsize=8)
    fig.savefig("out.png", dpi=100)
    plt.close(fig)


if __name__ == "__main__":
    main()
